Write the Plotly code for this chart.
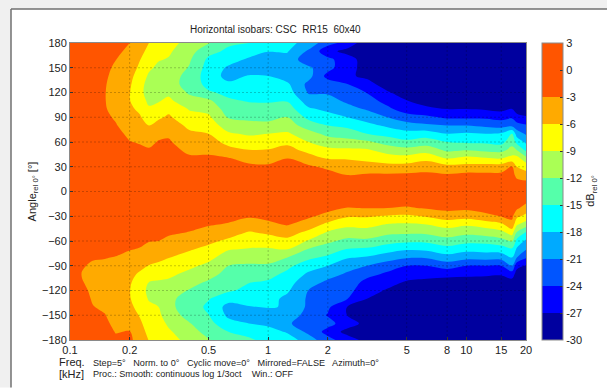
import numpy as np
import plotly.graph_objects as go

freq_khz = [0.1, 0.115, 0.13, 0.15, 0.17, 0.2, 0.225, 0.25, 0.28, 0.315, 0.4, 0.5, 0.63, 0.8, 1,
            1.25, 1.6, 2, 2.5, 3.15, 4, 5, 6.3, 8, 10, 12.5, 15, 17, 18, 20]
angle_deg = list(range(180, -181, -10))
band_edges = [-30, -27, -24, -21, -18, -15, -12, -9, -6, -3, 0, 3]
band_colors = ["#00009f", "#0000ff", "#0055ff", "#00aaff", "#00ffff", "#55ffaa",
               "#aaff55", "#ffff00", "#ffaa00", "#ff5500", "#ff5500"]
x_ticks = [0.1, 0.2, 0.5, 1, 2, 5, 8, 10, 15, 20]
y_ticks = [180, 150, 120, 90, 60, 30, 0, -30, -60, -90, -120, -150, -180]
grid_x = [0.2, 0.5, 1, 2, 5, 8, 10, 15]
grid_y = [150, 120, 90, 60, 30, 0, -30, -60, -90, -120, -150]

# dB at each angle (180 ... -180, 10 degree steps), one list per frequency
db_by_freq = [
 [-1]*37,
 [-1.2,-1.3,-1.4,-1.5,-1.6,-1.6,-1.7,-1.7,-1.6,-1.5,-1.4,-1.3,-1.1,-1,-.8,-.6,-.4,-.2,0,-.2,-.4,-.6,-.8,-1,-1.2,-1.5,-2.2,-2.8,-3.1,-2.9,-2.5,-2.1,-1.8,-1.6,-1.5,-1.4,-1.3],
 [-1.5,-1.6,-1.7,-1.9,-2.1,-2.2,-2.3,-2.3,-2.2,-2,-1.8,-1.6,-1.3,-1.1,-.9,-.7,-.4,-.2,0,-.2,-.4,-.7,-.9,-1.2,-1.6,-2,-2.8,-3.3,-3.5,-3.5,-3.4,-3.2,-2.9,-2.5,-2.2,-2,-1.8],
 [-1.8,-2,-2.2,-2.4,-2.6,-2.8,-2.9,-2.9,-2.8,-2.5,-2.1,-1.8,-1.5,-1.2,-.9,-.7,-.5,-.3,0,-.3,-.5,-.8,-1.1,-1.5,-2,-2.5,-2.9,-3.5,-4,-4.2,-4.2,-3.9,-3.4,-2.9,-2.5,-2.2,-2],
 [-2.3,-2.6,-2.95,-3.4,-3.8,-4.1,-4.2,-4.1,-3.8,-3.3,-2.8,-2.3,-1.8,-1.5,-1.1,-.8,-.5,-.3,0,-.3,-.6,-.9,-1.2,-1.6,-2,-2.4,-3.1,-3.9,-4.5,-4.8,-4.9,-4.8,-4.5,-4.1,-3.6,-3.1,-2.6],
 [-3,-3.4,-4,-4.6,-5.2,-5.6,-5.9,-5.9,-5.5,-5,-4.3,-3.5,-2.9,-2.3,-1.8,-1.3,-.8,-.4,0,-.4,-.8,-1.2,-1.6,-2,-2.4,-2.9,-3.6,-4.4,-5.2,-5.7,-5.9,-5.8,-5.3,-4.6,-3.8,-2.9,-2.4],
 [-4.6,-5.3,-5.9,-6.5,-7.3,-8,-8.3,-7.6,-6.5,-5.7,-5,-4.2,-3.2,-2.5,-1.9,-1.4,-.9,-.4,0,-.4,-.9,-1.3,-1.8,-2.2,-2.6,-3.1,-4.1,-5.2,-6.4,-7.2,-7.8,-7.6,-7,-6.2,-5.5,-4.9,-4.3],
 [-6,-6.6,-7.4,-8.5,-9.4,-10,-10,-9.6,-8.6,-7.3,-6,-5,-3.7,-2.7,-2,-1.5,-1,-.5,0,-.5,-1,-1.5,-1.9,-2.3,-2.9,-3.8,-5,-6.1,-7.7,-9,-9.6,-9.2,-8.5,-7.9,-7.3,-6.7,-6.1],
 [-7.2,-8,-8.8,-9.6,-10.4,-10.9,-10.4,-9.2,-8,-6.4,-5.1,-3.8,-2.8,-2.2,-1.7,-1.3,-.9,-.5,0,-.5,-1,-1.5,-2,-2.5,-3,-4.2,-5.4,-6.5,-8,-9.3,-10.1,-10,-9,-8.4,-7.8,-7.2,-6.7],
 [-7.8,-8.6,-9.2,-10,-10.7,-10.9,-9.6,-8.4,-6.7,-5.6,-4.5,-3.4,-2.7,-2.2,-1.7,-1.3,-.9,-.5,0,-.5,-1.1,-1.6,-2.1,-2.7,-3.5,-4.7,-5.9,-7.1,-8.4,-9.5,-10.6,-11.3,-11.3,-10.6,-9.5,-8.6,-7.9],
 [-10.2,-10.8,-11.6,-12.2,-12.9,-13,-12.4,-11,-9.2,-8,-6.6,-5.5,-4.5,-3.5,-2.6,-2,-1.3,-.6,0,-.6,-1.2,-1.8,-2.4,-3.1,-4.4,-5.7,-7.1,-8.4,-9.7,-11,-12.2,-13.2,-13.4,-13,-11.8,-10.8,-9.9],
 [-11.8,-14,-15.6,-16.2,-16.5,-16,-14.6,-11.4,-9.8,-8.5,-7.3,-6,-4.7,-3.5,-2.6,-2,-1.3,-.6,0,-.7,-1.4,-2.1,-2.8,-3.9,-5.3,-6.8,-8.2,-9.7,-11,-12.4,-13.6,-14.8,-15.6,-14.9,-14,-13,-11.8],
 [-14.5,-15.6,-16.9,-18.4,-18.9,-17.5,-15.7,-14.6,-13.4,-12.2,-10.5,-8.6,-6.9,-5,-2.8,-2,-1.4,-.7,0,-.8,-1.6,-2.3,-3.2,-4.8,-6.6,-8.8,-10.4,-12,-12.9,-13.8,-14.6,-17,-19,-18.6,-17,-15,-13.6],
 [-15,-16.8,-18.4,-20,-17.8,-17,-16,-15.2,-14,-12.7,-11,-9.4,-7.5,-5.9,-3.9,-2.4,-1.6,-.8,0,-.9,-1.8,-2.7,-4.3,-6.3,-7.7,-9.2,-10.8,-12.4,-13.6,-14.9,-15.8,-16.7,-18.2,-19.8,-18,-16,-14.5],
 [-16.5,-17.9,-19.5,-19.9,-18,-17,-16.3,-15.3,-14,-12.8,-11.2,-9,-7.6,-5.8,-3.9,-2.6,-1.7,-.9,0,-.9,-1.7,-2.4,-3.5,-5.6,-7.5,-9.3,-10.8,-12.4,-14,-15.4,-16.2,-17,-17.8,-19.6,-18.6,-17,-16],
 [-17.2,-17.8,-19,-20.2,-19.5,-17.5,-16.6,-15.2,-13.6,-12,-10.6,-8.6,-6.8,-4.8,-2.9,-2.1,-1.4,-.7,0,-.7,-1.4,-2.1,-2.8,-4.7,-6.9,-9,-12,-14.3,-15.7,-16.8,-17.6,-18.7,-18.2,-19.5,-20.6,-18.3,-16.5],
 [-19,-21.5,-23,-20.5,-20,-21.8,-21.3,-19.5,-17.6,-15.8,-13.4,-10.8,-9,-7,-4.4,-2.6,-1.7,-.9,0,-.9,-1.7,-2.6,-4.3,-6.9,-9.3,-12.2,-14.4,-16.6,-18.5,-19.9,-21.1,-21.4,-21.6,-22,-22.5,-21.8,-19.5],
 [-23,-26,-23.3,-23,-25,-22.5,-21.3,-20,-18.6,-17,-15,-12.8,-10.5,-8.2,-6.2,-3.5,-2.1,-1.1,0,-1.1,-2.2,-3.9,-6.8,-9.4,-11.4,-13.5,-15.6,-18,-20,-21.5,-22.2,-22.9,-23.5,-24.2,-23,-25,-23],
 [-25,-28,-25.5,-26,-26.5,-23.9,-22.8,-21.5,-20,-18,-15.7,-13.4,-11,-8.4,-6.2,-4.5,-3,-1.5,0,-1.5,-3.1,-5.7,-8.2,-10.5,-12.8,-15.1,-17.7,-20,-21.3,-22,-23,-23.9,-27,-27,-25.5,-28,-25.5],
 [-29,-29,-28.6,-28,-27.6,-26,-24.1,-22.7,-21.3,-19.3,-17.1,-15,-11.5,-8.6,-6.8,-4.6,-2.7,-1.3,0,-1.4,-2.9,-5.7,-8.1,-10.3,-12.6,-15.5,-18.3,-21,-23,-25,-25.8,-27,-28.5,-29,-28,-27.8,-28],
 [-30,-30,-30,-29.8,-29.2,-28.3,-26.7,-25.1,-23.3,-21,-18.5,-16,-13.2,-10.2,-7.5,-5,-2.6,-1.3,0,-1.5,-3,-6.3,-9.2,-11.4,-13.9,-16.8,-19.6,-22.6,-24.5,-26,-27.3,-28.4,-29,-29.5,-29.5,-29,-29.5],
 [-30,-30,-30,-30,-30,-29.5,-28.3,-26.9,-25.6,-22.7,-19.8,-16.9,-14.3,-10.8,-7.8,-4.8,-2.5,-1.2,0,-1.6,-3.3,-6.6,-9.4,-11.6,-14.4,-17.7,-20.7,-24,-25.7,-27.3,-28.5,-29.3,-30,-30,-30,-30,-30],
 [-30,-30,-30,-30,-30,-29.8,-29.3,-28.5,-26.2,-23.4,-20.5,-16.5,-13.5,-10.2,-6.8,-4.2,-2.4,-1.2,0,-1.4,-2.7,-5.7,-9,-11.5,-14.4,-17.4,-20.7,-24,-25.9,-27.8,-28.8,-29.5,-30,-30,-30,-30,-30],
 [-30,-30,-30,-30,-30,-29.8,-29.2,-28.3,-27,-24.5,-21,-18,-15,-12.5,-9,-5,-2.7,-1.4,0,-1.1,-2.2,-4.5,-7.9,-10.5,-13.2,-16.2,-19.2,-22.7,-26.1,-28.3,-29,-29.6,-30,-30,-30,-30,-30],
 [-30,-30,-30,-30,-30,-29.8,-29.2,-28.3,-27,-24.5,-21,-17.6,-15.4,-12,-8,-5,-2.2,-1.1,0,-1.2,-2.4,-4.9,-8.6,-11.3,-14.1,-17.1,-20.1,-24,-26.3,-28.4,-29.2,-29.7,-30,-30,-30,-30,-30],
 [-30,-30,-30,-30,-30,-29.8,-29.3,-28.5,-27.3,-24.5,-21.6,-18,-15.5,-12.6,-8.6,-4.7,-2.4,-1.2,0,-1,-2.1,-3.6,-7.8,-10.6,-14.1,-16.8,-19.9,-24,-26.5,-28.4,-29.2,-29.7,-30,-30,-30,-30,-30],
 [-30,-30,-30,-30,-30,-29.8,-29.4,-28.6,-27.8,-25,-22.2,-17.6,-16,-12.8,-9,-4.5,-2.3,-1.2,0,-1,-1.9,-2.9,-6.7,-9.9,-13.1,-16.5,-19.9,-24,-26.7,-28.4,-29.2,-29.7,-30,-30,-30,-30,-30],
 [-30,-30,-30,-30,-30,-29.8,-29.2,-28.3,-27,-24.4,-21.8,-15,-13.1,-11,-7.8,-2.9,-1.9,-1,0,-.8,-1.6,-2.4,-3.9,-7.9,-11.6,-15.5,-18,-21,-25.5,-28.2,-29.2,-29.7,-30,-30,-30,-30,-30],
 [-30,-30,-30,-30,-30,-30,-29.6,-29,-28.2,-26.1,-22.8,-19.5,-16,-12,-7.7,-6,-3.9,-1.9,0,-1.3,-2.5,-5.3,-8.7,-12.4,-16,-18.5,-21,-26.1,-28.3,-29,-29.6,-30,-30,-30,-30,-30,-30],
 [-30,-30,-30,-30,-30,-30,-30,-29.4,-28.6,-26.7,-23.6,-21.4,-18.6,-15.6,-11,-7.2,-4.8,-2.1,0,-2,-4.2,-6.9,-10.5,-15.4,-18.6,-20.8,-23.7,-27.2,-28.7,-29.3,-29.8,-30,-30,-30,-30,-30,-30],
]
bad = [(f, len(c)) for f, c in zip(freq_khz, db_by_freq) if len(c) != 37]
if bad:
    raise ValueError(bad)
db_by_angle = np.array(db_by_freq).T

# plotly keeps about 6 px clear at the right, so paper fractions are taken over 531 px
L, PR, MR, T, B = 70, 526, 601, 43, 340.5
W, H = 607, 388
def px(x): return (x - L) / (MR - L)
def py(y): return (B - y) / (B - T)

n = len(band_colors)
scale = []
for i, c in enumerate(band_colors):
    scale += [[i / n, c], [(i + 1) / n, c]]

fig = go.Figure()
fig.add_trace(go.Contour(
    x=freq_khz, y=angle_deg, z=db_by_angle, zmin=-30, zmax=3,
    autocontour=False, contours=dict(start=-30, end=3, size=3, coloring="fill", showlines=False),
    line=dict(width=0), colorscale=scale, hoverinfo="skip",
    colorbar=dict(x=px(541.5), xanchor="left", thickness=20.5, thicknessmode="pixels", len=1, lenmode="fraction",
                  y=0, yanchor="bottom", xpad=0, ypad=0, outlinecolor="#8a8a8a", outlinewidth=1,
                  tickmode="array", tickvals=band_edges, ticktext=[str(v) for v in band_edges],
                  ticks="inside", ticklen=3, tickcolor="#333", tickfont=dict(size=11, color="#222"))))

gx, gy = [], []
for v in grid_x:
    gx += [v, v, None]; gy += [-180, 180, None]
for v in grid_y:
    gx += [0.1, 20, None]; gy += [v, v, None]
fig.add_trace(go.Scatter(x=gx, y=gy, mode="lines", hoverinfo="skip", showlegend=False,
                         line=dict(color="rgba(0,0,0,0.22)", width=1, dash="2px,2px")))

fig.update_xaxes(type="log", domain=[0, px(PR)], range=[np.log10(0.1), np.log10(20)], tickvals=x_ticks,
                 ticktext=[str(v) for v in x_ticks], ticks="inside", ticklen=3, tickcolor="#333", showgrid=False,
                 zeroline=False, showline=True, linecolor="#8a8a8a", mirror=True, tickfont=dict(size=11, color="#222"))
fig.update_yaxes(range=[-180, 180], tickvals=y_ticks, ticks="inside", ticklen=3, tickcolor="#333", showgrid=False,
                 zeroline=False, showline=True, linecolor="#8a8a8a", mirror=True, tickfont=dict(size=11, color="#222"),
                 title=dict(text="Angle<sub>rel 0°</sub> [°]", font=dict(size=11, color="#222"), standoff=3))

def note(x, y, text, size, anchor="left", angle=0):
    fig.add_annotation(xref="paper", yref="paper", x=px(x), y=py(y), text=text, showarrow=False, xanchor=anchor,
                       yanchor="middle", textangle=angle, font=dict(size=size, color="#222"))
note(275, 29, "Horizontal isobars: CSC  RR15  60x40", 10, "center")
note(56.5, 363, "Freq.", 11)
note(56.5, 375, "[kHz]", 11)
note(90.5, 364, "Step=5°   Norm. to 0°   Cyclic move=0°   Mirrored=FALSE   Azimuth=0°", 9.1)
note(90.5, 375, "Proc.: Smooth: continuous log 1/3oct    Win.: OFF", 9.1)
note(591, 191, "dB<sub>rel 0°</sub>", 11, "center", -90)

shapes = [
    dict(type="rect", xref="paper", yref="paper", x0=px(0), x1=px(W), y0=py(0), y1=py(9), fillcolor="#f0f0f0", line_width=0, layer="below"),
    dict(type="rect", xref="paper", yref="paper", x0=px(0), x1=px(11), y0=py(0), y1=py(H), fillcolor="#f0f0f0", line_width=0, layer="below"),
    dict(type="line", xref="paper", yref="paper", x0=px(11), x1=px(W), y0=py(9), y1=py(9), line=dict(color="#707070", width=1.5), layer="below"),
    dict(type="line", xref="paper", yref="paper", x0=px(11), x1=px(11), y0=py(9), y1=py(H), line=dict(color="#707070", width=1.5), layer="below"),
]
fig.update_layout(width=W, height=H, autosize=False, margin=dict(l=L, r=0, t=T, b=H - B), paper_bgcolor="white",
                  plot_bgcolor="white", font=dict(family="Liberation Sans, Arial, sans-serif"), showlegend=False, shapes=shapes)
fig.write_html("out.html", config={"displayModeBar": False},
               post_script="document.body.style.margin='0';document.documentElement.style.overflow='hidden';")
